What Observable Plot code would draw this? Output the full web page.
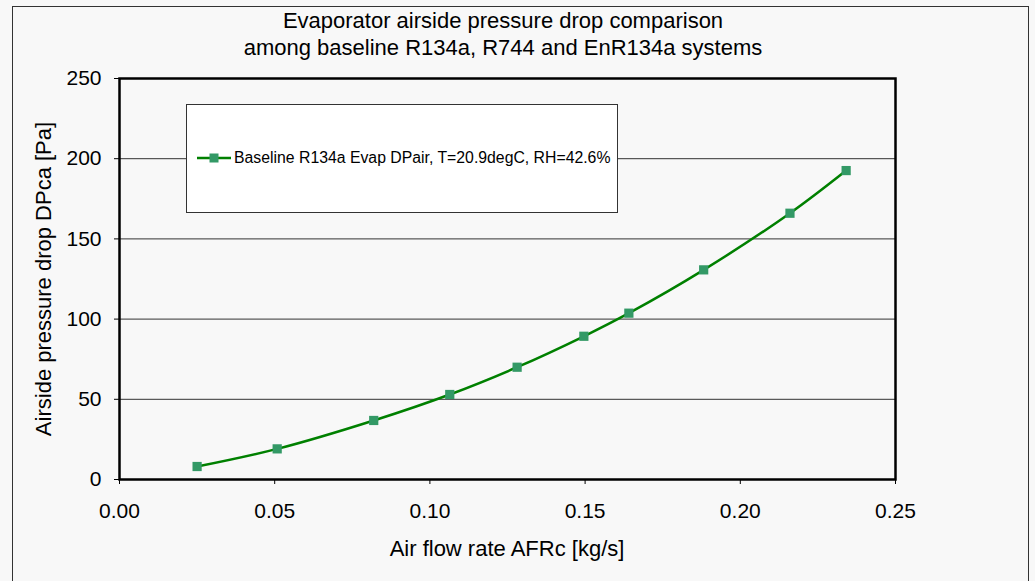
<!DOCTYPE html>
<html>
<head>
<meta charset="utf-8">
<script src="https://cdn.jsdelivr.net/npm/d3@7"></script>
<script src="https://cdn.jsdelivr.net/npm/@observablehq/plot@0.6"></script>
<style>
  html, body { margin: 0; padding: 0; background: #f8f8f8; overflow: hidden; }
  #wrap { position: relative; width: 1035px; height: 581px; background: #f8f8f8; font-family: "Liberation Sans", Arial, sans-serif; color: #000; }
  #border { position: absolute; left: 12px; top: 6px; width: 1017px; height: 640px; border: 1.5px solid #333; box-sizing: border-box; }
  #title { position: absolute; left: 0; width: 1006px; top: 7px; text-align: center; font-size: 22px; line-height: 27px; }
  #chart { position: absolute; left: 0; top: 0; }
  #xlabel { position: absolute; left: 0; width: 1014px; top: 536px; text-align: center; font-size: 22px; line-height: 26px; }
  #ylabel { position: absolute; left: 44px; top: 279px; font-size: 22px; line-height: 26px; white-space: nowrap; transform: translate(-50%, -50%) rotate(-90deg); }
  #legend { position: absolute; left: 186px; top: 104px; width: 432px; height: 109px; background: #fff; border: 1px solid #333; box-sizing: border-box; }
  #legend .item { position: absolute; left: 10px; top: 44px; display: flex; align-items: center; font-size: 15.8px; white-space: nowrap; }
</style>
</head>
<body>
<div id="wrap">
  <div id="border"></div>
  <div id="chart"></div>
  <div id="title">Evaporator airside pressure drop comparison<br>among baseline R134a, R744 and EnR134a systems</div>
  <div id="xlabel">Air flow rate AFRc [kg/s]</div>
  <div id="ylabel">Airside pressure drop DPca [Pa]</div>
  <div id="legend"><div class="item" id="legItem"></div></div>
</div>
<script>
// Data
const seriesName = "Baseline R134a Evap DPair, T=20.9degC, RH=42.6%";
const airFlow = [0.0250, 0.0508, 0.0819, 0.1064, 0.1281, 0.1496, 0.1641, 0.1882, 0.2160, 0.2341];
const pressureDrop = [8.1, 19.1, 36.8, 53.0, 70.0, 89.3, 103.7, 130.7, 166.0, 192.6];
const xTicks = [0.00, 0.05, 0.10, 0.15, 0.20, 0.25];
const yTicks = [0, 50, 100, 150, 200, 250];
const gridValues = [50, 100, 150, 200];

const lineColor = "#008000";
const markerColor = "#339966";

const data = airFlow.map((x, i) => ({x, y: pressureDrop[i]}));

const chart = Plot.plot({
  width: 1035,
  height: 581,
  marginLeft: 119,
  marginRight: 140,
  marginTop: 78,
  marginBottom: 102,
  style: { background: "transparent", fontFamily: "'Liberation Sans', Arial, sans-serif", fontSize: "21px", color: "#000" },
  x: { domain: [0, 0.25] },
  y: { domain: [0, 250] },
  marks: [
    Plot.ruleY(gridValues, { stroke: "#333", strokeWidth: 1 }),
    Plot.axisX({ ticks: xTicks, tickFormat: d3.format(".2f"), tickSize: 5, tickPadding: 19, label: null, fontSize: 21 }),
    Plot.axisY({ ticks: yTicks, tickSize: 5, tickPadding: 13, label: null, fontSize: 21 }),
    Plot.frame({ stroke: "#000", strokeWidth: 2.5 }),
    Plot.line(data, { x: "x", y: "y", stroke: lineColor, strokeWidth: 2.5, curve: "catmull-rom" }),
    Plot.dot(data, { x: "x", y: "y", symbol: "square", r: 5.2, fill: markerColor, stroke: "none" })
  ]
});
document.getElementById("chart").appendChild(chart);

// Legend
const leg = document.getElementById("legItem");
const ns = "http://www.w3.org/2000/svg";
const s = document.createElementNS(ns, "svg");
s.setAttribute("width", 34); s.setAttribute("height", 12);
s.style.marginRight = "3px";
const ln = document.createElementNS(ns, "line");
ln.setAttribute("x1", 0); ln.setAttribute("x2", 34); ln.setAttribute("y1", 6); ln.setAttribute("y2", 6);
ln.setAttribute("stroke", lineColor); ln.setAttribute("stroke-width", 2.5);
const sq = document.createElementNS(ns, "rect");
sq.setAttribute("x", 12.5); sq.setAttribute("y", 1.5); sq.setAttribute("width", 9); sq.setAttribute("height", 9);
sq.setAttribute("fill", markerColor);
s.appendChild(ln); s.appendChild(sq);
leg.appendChild(s);
const t = document.createElement("span");
t.textContent = seriesName;
leg.appendChild(t);
</script>
</body>
</html>
